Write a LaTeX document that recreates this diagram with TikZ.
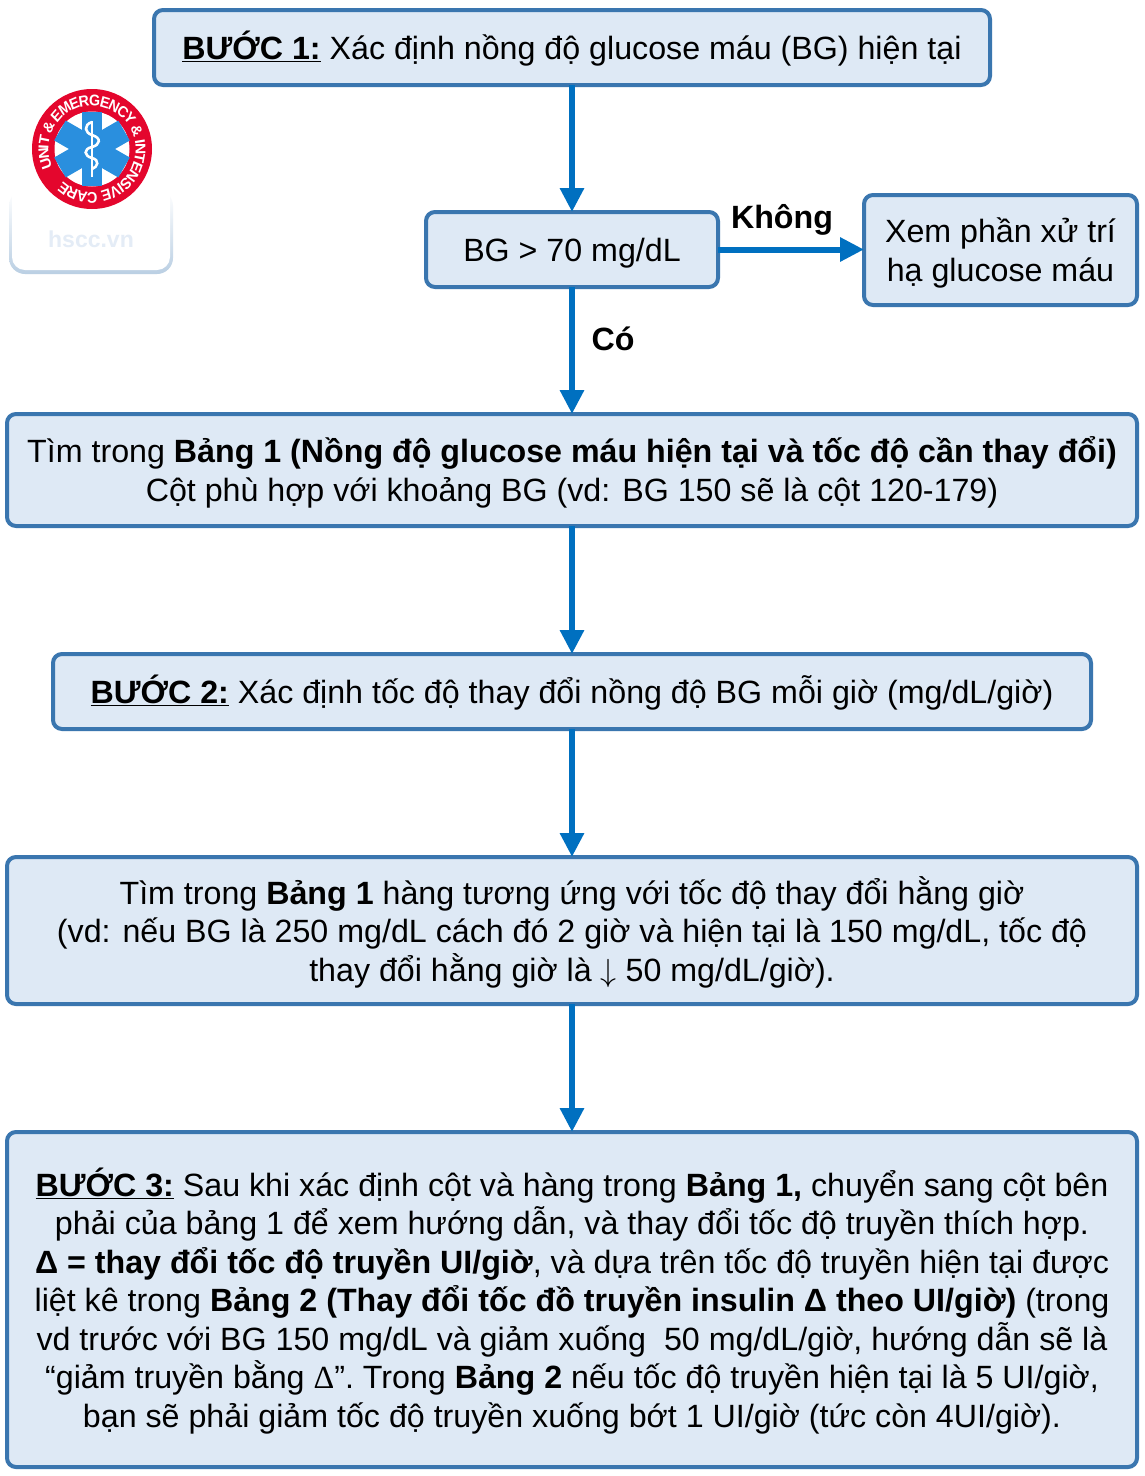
\documentclass[tikz,border=0pt]{standalone}
\usepackage{fontspec}
\setmainfont{Liberation Sans}
\newfontfamily\serifglyph{Liberation Serif}
\usetikzlibrary{arrows.meta}
\definecolor{boxfill}{HTML}{DEE9F5}
\definecolor{boxline}{HTML}{3A76AF}
\definecolor{arrowblue}{HTML}{0070C0}
\definecolor{logored}{HTML}{E4062D}
\definecolor{logoblue}{HTML}{2A8FDE}
\definecolor{wmark}{HTML}{E4ECF6}
\tikzset{
  flowbox/.style={draw=boxline,fill=boxfill,line width=4pt,rounded corners=9pt,outer sep=0pt,inner sep=0pt,
    font=\fontsize{32.2}{38.5}\selectfont},
  flowarrow/.style={draw=arrowblue,line width=6pt,-{Triangle[length=24pt,width=23pt]}},
  flowlabel/.style={font=\fontsize{32.2}{38.5}\selectfont\bfseries,inner sep=0pt},
  logoletter/.style={inner sep=0pt,text=white,font=\fontsize{15.5}{16}\selectfont\bfseries,xscale=.92},
}
\newcommand{\st}[1]{\underline{\textbf{#1}}}
\newcommand{\darrow}{\scalebox{3.2}{\fontsize{10}{12}\selectfont$\downarrow$}}
\newcommand{\tx}[1]{\vbox{\lineskiplimit=-100pt \baselineskip=38.5pt \def\\{\cr}\halign{\hfil##\hfil\cr\rule{0pt}{35pt}#1\rule[-11pt]{0pt}{0pt}\cr}}}
\begin{document}
\begin{tikzpicture}[x=1pt,y=-1pt]
\useasboundingbox (0,0) rectangle (1145,1476);
\fill[white] (0,0) rectangle (1145,1476);
% watermark
\shade[top color=white,bottom color=boxline!35,rounded corners=16pt] (9,190) rectangle (173,274);
\fill[white,rounded corners=13pt] (12,180) rectangle (170,270);
\node[inner sep=0pt,text=wmark,font=\fontsize{23}{26}\selectfont\bfseries] (wm) at (91,239) {hscc.vn};
% logo
\begin{scope}[shift={(92,149)},x=1pt,y=1pt]
  \fill[logored] (0,0) circle[radius=60];
  \fill[white] (0,0) circle[radius=37.5];
  \fill[logoblue] (-10,-37) rectangle (10,37);
  \foreach \a in {60,120}{
    \fill[logoblue,rotate=\a] (-11.5,-37) rectangle (11.5,37);
  }
  \draw[white,line width=2pt] (0,-28) -- (0,28);
  \draw[white,line width=2.6pt] (0,27) .. controls (-9,24) and (-7,16) .. (0,14) .. controls (10,11) and (8,4) .. (0,2)
     .. controls (-9,0) and (-8,-7) .. (0,-9) .. controls (8,-11) and (6,-18) .. (0,-20);
  \gdef\curang{204}
  \foreach \c/\w in {U/.72,N/.72,I/.28,T/.61,{}/.28,{\&}/.72,{}/.28,E/.67,M/.83,E/.67,R/.72,G/.78,E/.67,N/.72,C/.72,Y/.67,{}/.28,{\&}/.72,{}/.28,I/.28,N/.72,T/.61,E/.67,N/.72,S/.67,I/.28,V/.67,E/.67,{}/.28,C/.72,A/.72,R/.72,E/.67}{
    \pgfmathsetmacro{\mid}{\curang-8.5*\w}
    \pgfmathsetmacro{\rot}{\mid-90}
    \node[logoletter,rotate=\rot] at (\mid:48.5) {\c};
    \pgfmathsetmacro{\nxt}{\curang-17*\w}
    \xdef\curang{\nxt}
  }
\end{scope}
% boxes
\node[flowbox,minimum width=836pt,minimum height=75pt] (b1) at (572,47.5) {\tx{\st{BƯỚC 1:} Xác định nồng độ glucose máu (BG) hiện tại}};
\node[flowbox,minimum width=292pt,minimum height=75pt] (b2) at (572,249.5) {\tx{BG > 70 mg/dL}};
\node[flowbox,minimum width=273pt,minimum height=110pt] (b3) at (1000.5,250) {\tx{Xem phần xử trí\\hạ glucose máu}};
\node[flowbox,minimum width=1130pt,minimum height=112pt] (b4) at (572,470) {\tx{Tìm trong \textbf{Bảng 1 (Nồng độ glucose máu hiện tại và tốc độ cần thay đổi)}\\Cột phù hợp với khoảng BG (vd: BG 150 sẽ là cột 120-179)}};
\node[flowbox,minimum width=1038pt,minimum height=75pt] (b5) at (572,691.5) {\tx{\st{BƯỚC 2:} Xác định tốc độ thay đổi nồng độ BG mỗi giờ (mg/dL/giờ)}};
\node[flowbox,minimum width=1130pt,minimum height=147pt] (b6) at (572,930.5) {\tx{Tìm trong \textbf{Bảng 1} hàng tương ứng với tốc độ thay đổi hằng giờ\\(vd: nếu BG là 250 mg/dL cách đó 2 giờ và hiện tại là 150 mg/dL, tốc độ\\thay đổi hằng giờ là \darrow{} 50 mg/dL/giờ).}};
\node[flowbox,minimum width=1130pt,minimum height=335pt] (b7) at (572,1299.5) {\tx{\st{BƯỚC 3:} Sau khi xác định cột và hàng trong \textbf{Bảng 1,} chuyển sang cột bên\\phải của bảng 1 để xem hướng dẫn, và thay đổi tốc độ truyền thích hợp.\\\textbf{Δ = thay đổi tốc độ truyền UI/giờ}, và dựa trên tốc độ truyền hiện tại được\\liệt kê trong \textbf{Bảng 2 (Thay đổi tốc đồ truyền insulin Δ theo UI/giờ)} (trong\\vd trước với BG 150 mg/dL và giảm xuống\ \ 50 mg/dL/giờ, hướng dẫn sẽ là\\“giảm truyền bằng {\serifglyph Δ}”. Trong \textbf{Bảng 2} nếu tốc độ truyền hiện tại là 5 UI/giờ,\\bạn sẽ phải giảm tốc độ truyền xuống bớt 1 UI/giờ (tức còn 4UI/giờ).}};
% connectors
\draw[flowarrow] (b1) -- (b2);
\draw[flowarrow] (b2) -- (b3.west |- b2);
\draw[flowarrow] (b2) -- (b4);
\draw[flowarrow] (b4) -- (b5);
\draw[flowarrow] (b5) -- (b6);
\draw[flowarrow] (b6) -- (b7);
% labels
\node[flowlabel] (lk) at (782,220) {Không};
\node[flowlabel] (lc) at (613,339) {Có};
\end{tikzpicture}
\end{document}
